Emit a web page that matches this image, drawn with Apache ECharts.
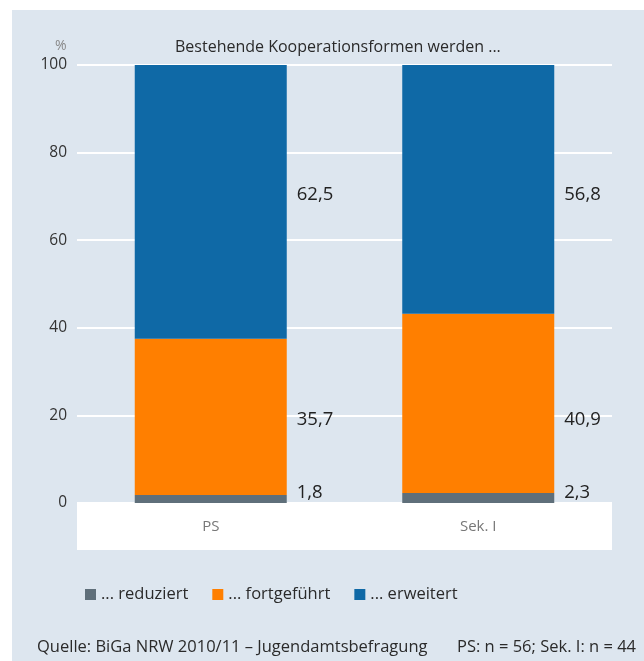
<!DOCTYPE html>
<html>
<head>
<meta charset="utf-8">
<script src="https://cdn.jsdelivr.net/npm/echarts@6/dist/echarts.min.js"></script>
<style>
html,body{margin:0;padding:0;background:#fff;}
#c{position:absolute;left:12px;top:10px;width:632px;height:651px;}
</style>
</head>
<body>
<div id="c"></div>
<script>
var categories = ['PS', 'Sek. I'];
var seriesNames = ['... reduziert', '... fortgeführt', '... erweitert'];
var reduziert = [1.8, 2.3];
var fortgefuehrt = [35.7, 40.9];
var erweitert = [62.5, 56.8];
var yTicks = [0, 20, 40, 60, 80, 100];

var FONT = '"Open Sans", "Noto Sans", sans-serif';
var colors = ['#5f6f7a', '#ff7f00', '#0f69a6'];
var values = [reduziert, fortgefuehrt, erweitert];
// value levels (axis units) at which each series' labels sit in the original layout
var labelLevels = [2.3, 19, 70.3];
var GRID_H = 438;
var pxPerUnit = GRID_H / (yTicks[yTicks.length - 1] - yTicks[0]);

function fmt(v){ return String(v).replace('.', ','); }

var chart = echarts.init(document.getElementById('c'));
var series = seriesNames.map(function(name, i){
  var data = values[i].map(function(v, j){
    var base = 0;
    for (var k = 0; k < i; k++) base += values[k][j];
    var mid = base + v / 2;
    return { value: v, label: { offset: [0, (mid - labelLevels[i]) * pxPerUnit] } };
  });
  return {
    name: name,
    type: 'bar',
    stack: 'total',
    barWidth: 152,
    data: data,
    itemStyle: { color: colors[i] },
    label: {
      show: true,
      position: 'right',
      distance: 10,
      color: '#222',
      fontSize: 18.5,
      fontFamily: FONT,
      formatter: function(p){ return fmt(p.value); }
    }
  };
});

chart.setOption({
  backgroundColor: '#dde6ef',
  animation: false,
  textStyle: { fontFamily: FONT },
  title: [
    { text: 'Bestehende Kooperationsformen werden ...', left: 158, top: 24,
      textStyle: { fontSize: 16, fontWeight: 'normal', color: '#2a2a2a', fontFamily: FONT } },
    { text: '%', left: 38, top: 24,
      textStyle: { fontSize: 14, fontWeight: 'normal', color: '#888', fontFamily: FONT } },
    { text: 'Quelle: BiGa NRW 2010/11 – Jugendamtsbefragung', left: 20, top: 624,
      textStyle: { fontSize: 16.5, fontWeight: 'normal', color: '#2a2a2a', fontFamily: FONT } },
    { text: 'PS: n = 56; Sek. I: n = 44', right: 3, top: 624,
      textStyle: { fontSize: 16.5, fontWeight: 'normal', color: '#2a2a2a', fontFamily: FONT } }
  ],
  legend: {
    left: 68, top: 571,
    icon: 'rect', itemWidth: 11, itemHeight: 11, itemGap: 24,
    textStyle: { fontSize: 16.5, color: '#2a2a2a', fontFamily: FONT },
    data: seriesNames
  },
  grid: [
    { left: 65, right: 32, top: 55, height: GRID_H, containLabel: false },
    { left: 65, right: 32, top: 493, height: 47, show: true, backgroundColor: '#ffffff', borderWidth: 0 }
  ],
  xAxis: [
    { type: 'category', data: categories, gridIndex: 0,
      axisLine: { show: false }, axisTick: { show: false },
      axisLabel: { margin: 16, fontSize: 15, color: '#777', fontFamily: FONT },
      z: 10 },
    { type: 'category', data: categories, gridIndex: 1, show: false }
  ],
  yAxis: [
    { type: 'value', gridIndex: 0, min: yTicks[0], max: yTicks[yTicks.length - 1], interval: 20,
      axisLine: { show: false }, axisTick: { show: false },
      axisLabel: { margin: 10, fontSize: 15.5, color: '#333', fontFamily: FONT },
      splitLine: { lineStyle: { color: '#ffffff', width: 2 } } },
    { type: 'value', gridIndex: 1, show: false }
  ],
  series: series
});
</script>
</body>
</html>
